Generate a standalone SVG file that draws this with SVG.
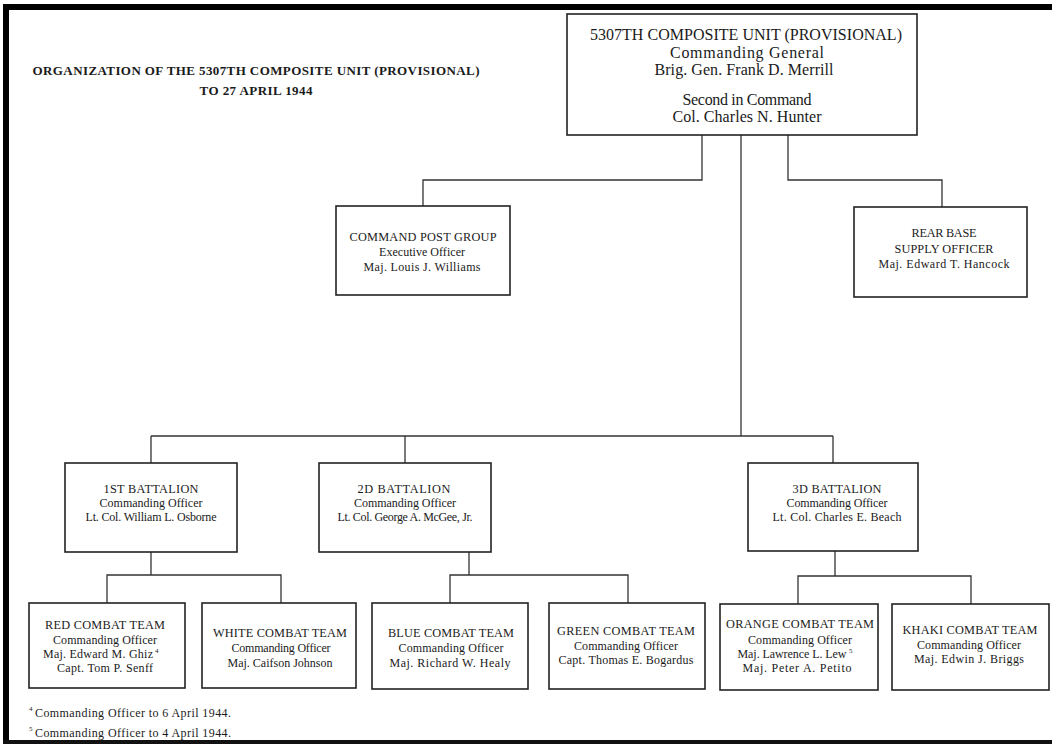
<svg xmlns="http://www.w3.org/2000/svg" width="1052" height="744" viewBox="0 0 1052 744">
<style>
text{font-family:"Liberation Serif","Times New Roman",serif;fill:#1a1a1a;text-anchor:middle}
.t{font-size:13px;font-weight:bold}
.h{font-size:12.3px}
.n{font-size:12px}
.big{font-size:16px}
.sup{font-size:7px;text-anchor:start}
.fn{font-size:12px;text-anchor:start}
.box{fill:#fff;stroke:#222;stroke-width:1.6}
.c{fill:none;stroke:#333;stroke-width:1.3}
</style>
<rect x="0" y="0" width="1052" height="744" fill="#fff"/>
<g id="frame">
<rect x="3" y="4" width="1049" height="6" fill="#000"/>
<rect x="3" y="4" width="6" height="740" fill="#000"/>
<rect x="3" y="740" width="1049" height="4" fill="#111"/>
</g>
<g id="title">
<text class="t" x="256" y="75" textLength="447">ORGANIZATION OF THE 5307TH COMPOSITE UNIT (PROVISIONAL)</text>
<text class="t" x="256" y="95" textLength="113">TO 27 APRIL 1944</text>
</g>
<g id="connectors">
<path class="c" d="M702,135V180H423V206"/>
<path class="c" d="M788,135V180H942V207"/>
<path class="c" d="M741,135V436"/>
<path class="c" d="M151,436H833"/>
<path class="c" d="M151,436V463M405,436V463M833,436V463"/>
<path class="c" d="M151,552V575M107,603V575H281V603"/>
<path class="c" d="M469,552V575M450,603V575H628V603"/>
<path class="c" d="M835,551V576M798,604V576H971V604"/>
</g>
<g id="hq">
<rect class="box" x="567" y="14" width="350" height="121"/>
<text class="big" x="746" y="40" textLength="312">5307TH COMPOSITE UNIT (PROVISIONAL)</text>
<text class="big" x="747" y="58" textLength="154">Commanding General</text>
<text class="big" x="744" y="75" textLength="179">Brig. Gen. Frank D. Merrill</text>
<text class="big" x="747" y="105" textLength="129">Second in Command</text>
<text class="big" x="747" y="122" textLength="149">Col. Charles N. Hunter</text>
</g>
<g id="cpg">
<rect class="box" x="336" y="206" width="174" height="89"/>
<text class="h" x="423" y="241" textLength="147">COMMAND POST GROUP</text>
<text class="n" x="422" y="256" textLength="86">Executive Officer</text>
<text class="n" x="422" y="271" textLength="117">Maj. Louis J. Williams</text>
</g>
<g id="rear">
<rect class="box" x="854" y="207" width="173" height="90"/>
<text class="h" x="944" y="237" textLength="65">REAR BASE</text>
<text class="h" x="944" y="253" textLength="99">SUPPLY OFFICER</text>
<text class="n" x="944" y="268" textLength="131">Maj. Edward T. Hancock</text>
</g>
<g id="bn1">
<rect class="box" x="65" y="463" width="172" height="89"/>
<text class="h" x="151" y="493" textLength="95">1ST BATTALION</text>
<text class="n" x="151" y="507" textLength="103">Commanding Officer</text>
<text class="n" x="151" y="521" textLength="131">Lt. Col. William L. Osborne</text>
</g>
<g id="bn2">
<rect class="box" x="319" y="463" width="172" height="89"/>
<text class="h" x="404" y="493" textLength="93">2D BATTALION</text>
<text class="n" x="405" y="507" textLength="102">Commanding Officer</text>
<text class="n" x="405" y="521" textLength="135">Lt. Col. George A. McGee, Jr.</text>
</g>
<g id="bn3">
<rect class="box" x="748" y="463" width="170" height="88"/>
<text class="h" x="837" y="493" textLength="89">3D BATTALION</text>
<text class="n" x="837" y="507" textLength="101">Commanding Officer</text>
<text class="n" x="837" y="521" textLength="129">Lt. Col. Charles E. Beach</text>
</g>
<g id="red">
<rect class="box" x="29" y="603" width="156" height="85"/>
<text class="h" x="105" y="629" textLength="120">RED COMBAT TEAM</text>
<text class="n" x="105" y="644" textLength="104">Commanding Officer</text>
<text class="n" x="98" y="658" textLength="110">Maj. Edward M. Ghiz</text>
<text class="sup" x="155" y="653">4</text>
<text class="n" x="105" y="672" textLength="96">Capt. Tom P. Senff</text>
</g>
<g id="white">
<rect class="box" x="202" y="603" width="154" height="85"/>
<text class="h" x="280" y="637" textLength="134">WHITE COMBAT TEAM</text>
<text class="n" x="281" y="652" textLength="99">Commanding Officer</text>
<text class="n" x="280" y="667" textLength="105">Maj. Caifson Johnson</text>
</g>
<g id="blue">
<rect class="box" x="372" y="603" width="156" height="86"/>
<text class="h" x="451" y="637" textLength="126">BLUE COMBAT TEAM</text>
<text class="n" x="451" y="652" textLength="105">Commanding Officer</text>
<text class="n" x="450" y="667" textLength="121">Maj. Richard W. Healy</text>
</g>
<g id="green">
<rect class="box" x="549" y="603" width="156" height="86"/>
<text class="h" x="626" y="635" textLength="138">GREEN COMBAT TEAM</text>
<text class="n" x="626" y="650" textLength="104">Commanding Officer</text>
<text class="n" x="626" y="664" textLength="135">Capt. Thomas E. Bogardus</text>
</g>
<g id="orange">
<rect class="box" x="720" y="604" width="158" height="86"/>
<text class="h" x="800" y="628" textLength="148">ORANGE COMBAT TEAM</text>
<text class="n" x="800" y="644" textLength="104">Commanding Officer</text>
<text class="n" x="792" y="658" textLength="109">Maj. Lawrence L. Lew</text>
<text class="sup" x="849" y="653">5</text>
<text class="n" x="797" y="672" textLength="109">Maj. Peter A. Petito</text>
</g>
<g id="khaki">
<rect class="box" x="892" y="604" width="157" height="86"/>
<text class="h" x="970" y="634" textLength="135">KHAKI COMBAT TEAM</text>
<text class="n" x="969" y="649" textLength="104">Commanding Officer</text>
<text class="n" x="969" y="663" textLength="110">Maj. Edwin J. Briggs</text>
</g>
<g id="footnotes">
<text class="sup" x="29" y="711">4</text>
<text class="fn" x="35" y="717" textLength="196">Commanding Officer to 6 April 1944.</text>
<text class="sup" x="29" y="731">5</text>
<text class="fn" x="35" y="737" textLength="196">Commanding Officer to 4 April 1944.</text>
</g>
</svg>
